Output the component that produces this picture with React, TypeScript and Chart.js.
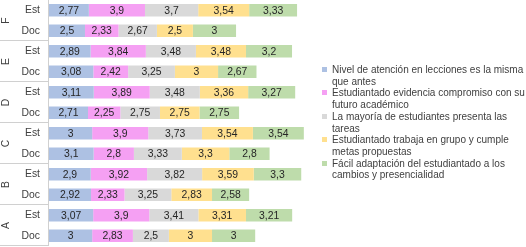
import React, { useEffect, useRef } from 'react';
import { Chart, registerables } from 'chart.js';

Chart.register(...registerables);

const rowLabels = ['Est', 'Doc', 'Est', 'Doc', 'Est', 'Doc', 'Est', 'Doc', 'Est', 'Doc', 'Est', 'Doc'];
const groupLabels = ['F', 'E', 'D', 'C', 'B', 'A'];

const seriesNames = [
  'Nivel de atención en lecciones es la misma que antes',
  'Estudiantado evidencia compromiso con su futuro académico',
  'La mayoría de estudiantes presenta las tareas',
  'Estudiantado trabaja en grupo y cumple metas propuestas',
  'Fácil adaptación del estudiantado a los cambios y presencialidad',
];
const legendWrapWords = [8, 5, 6, 6, 6];

const nivelAtencion = [2.77, 2.5, 2.89, 3.08, 3.11, 2.71, 3, 3.1, 2.9, 2.92, 3.07, 3];
const compromiso = [3.9, 2.33, 3.84, 2.42, 3.89, 2.25, 3.9, 2.8, 3.92, 2.33, 3.9, 2.83];
const tareas = [3.7, 2.67, 3.48, 3.25, 3.48, 2.75, 3.73, 3.33, 3.82, 3.25, 3.41, 2.5];
const trabajoGrupo = [3.54, 2.5, 3.48, 3, 3.36, 2.75, 3.54, 3.3, 3.59, 2.83, 3.31, 3];
const adaptacion = [3.33, 3, 3.2, 2.67, 3.27, 2.75, 3.54, 2.8, 3.3, 2.58, 3.21, 3];

const seriesValues = [nivelAtencion, compromiso, tareas, trabajoGrupo, adaptacion];
const seriesColors = ['#adc1e3', '#f5a0f3', '#d9d9d9', '#ffe08f', '#bedcab'];

const FONT = '"Liberation Sans", Arial, sans-serif';

const labelPlugin = {
  id: 'valueLabels',
  afterDatasetsDraw(chart: any) {
    const ctx = chart.ctx;
    ctx.save();
    ctx.font = `10.4px ${FONT}`;
    ctx.fillStyle = '#262626';
    ctx.textAlign = 'center';
    ctx.textBaseline = 'middle';
    chart.data.datasets.forEach((ds: any, di: number) => {
      const meta = chart.getDatasetMeta(di);
      meta.data.forEach((bar: any, i: number) => {
        const v = ds.data[i];
        const x = (bar.x + bar.base) / 2;
        ctx.fillText(String(v).replace('.', ','), x, bar.y + 0.5);
      });
    });
    ctx.restore();
  },
};

const groupPlugin = {
  id: 'groupAxis',
  afterDraw(chart: any) {
    const y = chart.scales.y;
    const ctx = chart.ctx;
    const right = chart.chartArea.left;
    const step = y.getPixelForValue(1) - y.getPixelForValue(0);
    const top = y.getPixelForValue(0) - step / 2;
    ctx.save();
    ctx.strokeStyle = '#d0d0d0';
    ctx.lineWidth = 1;
    ctx.beginPath();
    for (let g = 0; g < groupLabels.length; g++) {
      const yb = Math.round(top + (g + 1) * 2 * step) - 0.5;
      ctx.moveTo(0, yb);
      ctx.lineTo(right, yb);
    }
    const bottom = Math.round(top + groupLabels.length * 2 * step) - 0.5;
    ctx.moveTo(right - 0.5, top);
    ctx.lineTo(right - 0.5, bottom);
    ctx.stroke();
    ctx.font = `10.4px ${FONT}`;
    ctx.fillStyle = '#404040';
    ctx.textAlign = 'center';
    ctx.textBaseline = 'middle';
    groupLabels.forEach((lab, g) => {
      const yc = top + (2 * g + 1) * step;
      ctx.save();
      ctx.translate(6, yc);
      ctx.rotate(-Math.PI / 2);
      ctx.fillText(lab, 0, 0);
      ctx.restore();
    });
    ctx.restore();
  },
};

export default function App() {
  const ref = useRef<HTMLCanvasElement>(null);

  useEffect(() => {
    document.body.style.margin = '0';
    const chart = new Chart(ref.current as HTMLCanvasElement, {
      type: 'bar',
      data: {
        labels: rowLabels,
        datasets: seriesNames.map((name, i) => ({
          label: name,
          data: seriesValues[i],
          backgroundColor: seriesColors[i],
          borderWidth: 0,
          categoryPercentage: 1,
          barPercentage: 0.6,
        })),
      },
      options: {
        indexAxis: 'y',
        responsive: false,
        animation: false,
        devicePixelRatio: 1,
        layout: { padding: { left: 0, right: 218, top: 0, bottom: 1 } },
        plugins: {
          legend: { display: false },
          tooltip: { enabled: false },
        },
        scales: {
          x: {
            stacked: true,
            min: 0,
            max: 18,
            display: false,
          },
          y: {
            stacked: true,
            grid: { display: false, drawTicks: false },
            border: { display: false },
            ticks: {
              padding: 9,
              color: '#404040',
              font: { family: FONT, size: 10.4 },
            },
            afterFit(scale: any) {
              scale.width = 49;
              scale.paddingTop = 0;
              scale.paddingBottom = 0;
            },
          },
        },
      },
      plugins: [labelPlugin, groupPlugin],
    });
    return () => chart.destroy();
  }, []);

  return (
    <div style={{ position: 'relative', width: 526, height: 247, background: '#fff', fontFamily: FONT }}>
      <canvas ref={ref} width={526} height={247} style={{ position: 'absolute', left: 0, top: 0 }} />
      <div style={{ position: 'absolute', left: 322, top: 64, fontSize: 10, lineHeight: '11.7px', color: '#404040' }}>
        {seriesNames.map((name, i) => {
          const words = name.split(' ');
          const l1 = words.slice(0, legendWrapWords[i]).join(' ');
          const l2 = words.slice(legendWrapWords[i]).join(' ');
          return (
            <div key={name} style={{ position: 'relative', paddingLeft: 10, whiteSpace: 'nowrap' }}>
              <span style={{ position: 'absolute', left: 0, top: 3, width: 5, height: 5, background: seriesColors[i] }} />
              <div>{l1}</div>
              <div>{l2}</div>
            </div>
          );
        })}
      </div>
    </div>
  );
}
